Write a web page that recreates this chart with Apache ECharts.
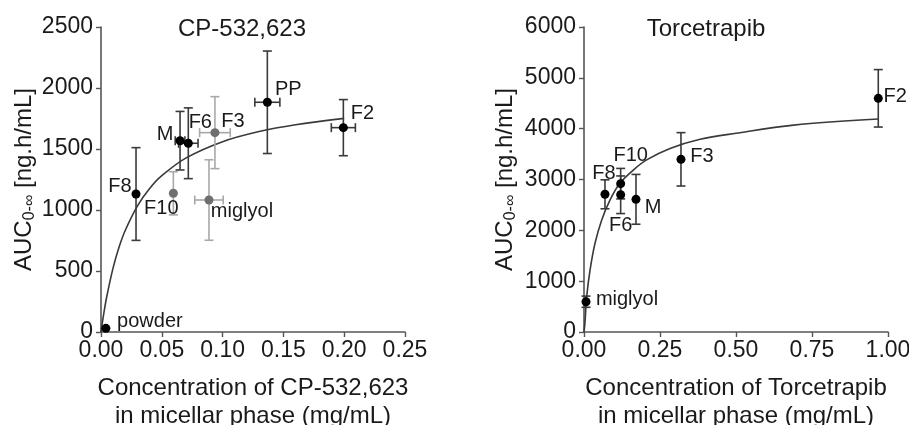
<!DOCTYPE html>
<html>
<head>
<meta charset="utf-8">
<script src="https://cdn.jsdelivr.net/npm/echarts@6/dist/echarts.min.js"></script>
<style>
  html, body { margin: 0; padding: 0; background: #fff; }
  #chart { width: 909px; height: 425px; }
</style>
</head>
<body>
<div id="chart"></div>
<script>
// CP-532,623 panel - black points
const cpNames = ['powder', 'F8', 'M', 'F6', 'PP', 'F2'];
const cpX = [0.004, 0.0288, 0.065, 0.0718, 0.1368, 0.1993];
const cpY = [30, 1131, 1568, 1547, 1883, 1675];
const cpYErr = [0, 380, 240, 290, 420, 230];
const cpXErr = [0, 0, 0.004, 0.008, 0.0103, 0.0099];
// CP-532,623 panel - grey points
const cpGreyNames = ['F10', 'F3', 'miglyol'];
const cpGreyX = [0.0595, 0.0937, 0.0888];
const cpGreyY = [1137, 1634, 1082];
const cpGreyYErr = [177, 295, 330];
const cpGreyXErr = [0, 0.0126, 0.0117];
// CP-532,623 fitted curve
const cpCurveX = [0, 0.0025, 0.005, 0.01, 0.015, 0.02, 0.03, 0.04, 0.05, 0.07, 0.1, 0.13, 0.16, 0.2];
const cpCurveY = [0, 164, 303, 528, 700, 834, 1034, 1176, 1281, 1427, 1560, 1643, 1699, 1751];

// Torcetrapib panel
const tcNames = ['miglyol', 'F8', 'F10', 'F6', 'M', 'F3', 'F2'];
const tcX = [0.0066, 0.069, 0.1206, 0.1206, 0.171, 0.319, 0.968];
const tcY = [596, 2709, 2918, 2700, 2610, 3397, 4597];
const tcYErr = [110, 285, 300, 370, 490, 525, 565];
const tcXErr = [0, 0, 0, 0, 0, 0, 0];
const tcCurveX = [0, 0.003, 0.009, 0.02, 0.036, 0.058, 0.085, 0.118, 0.162, 0.206, 0.283, 0.382, 0.5, 0.69, 0.968];
const tcCurveY = [0, 170, 700, 1220, 1740, 2200, 2590, 2925, 3185, 3385, 3610, 3790, 3910, 4070, 4190];

// label offsets (px from point centre)
const cpOffsets = [[44, -7], [-16, -8], [-15, -6], [12, -21], [21, -13], [19, -14]];
const cpGreyOffsets = [[-12, 15], [18, -11], [33, 11]];
const tcOffsets = [[41, -2], [-1, -21], [10, -28], [0, 31], [17, 8], [21, -3], [17, -2]];

const FONT = '"Liberation Sans", Arial, sans-serif';
const TXT = '#1a1a1a';
const AXIS = '#555';

function errData(xs, ys, ey, ex) {
  return xs.map((x, i) => [x, ys[i], ey[i], ex[i]]);
}

function pointData(names, xs, ys, offs) {
  return names.map((n, i) => ({
    name: n,
    value: [xs[i], ys[i]],
    label: { offset: offs[i] }
  }));
}

function renderErr(color) {
  return function (params, api) {
    const x = api.value(0), y = api.value(1), ey = api.value(2), ex = api.value(3);
    const cap = 4.5;
    const style = { stroke: color, lineWidth: 1.6, fill: null };
    const kids = [];
    if (ey > 0) {
      const t = api.coord([x, y + ey]);
      const b = api.coord([x, y - ey]);
      kids.push({ type: 'line', shape: { x1: t[0], y1: t[1], x2: b[0], y2: b[1] }, style });
      kids.push({ type: 'line', shape: { x1: t[0] - cap, y1: t[1], x2: t[0] + cap, y2: t[1] }, style });
      kids.push({ type: 'line', shape: { x1: b[0] - cap, y1: b[1], x2: b[0] + cap, y2: b[1] }, style });
    }
    if (ex > 0) {
      const l = api.coord([x - ex, y]);
      const r = api.coord([x + ex, y]);
      kids.push({ type: 'line', shape: { x1: l[0], y1: l[1], x2: r[0], y2: r[1] }, style });
      kids.push({ type: 'line', shape: { x1: l[0], y1: l[1] - cap, x2: l[0], y2: l[1] + cap }, style });
      kids.push({ type: 'line', shape: { x1: r[0], y1: r[1] - cap, x2: r[0], y2: r[1] + cap }, style });
    }
    return { type: 'group', children: kids };
  };
}

function xAxisCfg(idx, max, interval, digits, name) {
  return {
    type: 'value', gridIndex: idx, min: 0, max: max, interval: interval,
    name: name, nameLocation: 'middle', nameGap: 42,
    nameTextStyle: { fontFamily: FONT, fontSize: 24, color: TXT, lineHeight: 28, verticalAlign: 'top' },
    axisLine: { show: true, lineStyle: { color: AXIS, width: 1.6 } },
    axisTick: { show: true, length: 5, lineStyle: { color: AXIS, width: 1.4 } },
    axisLabel: { fontFamily: FONT, fontSize: 23, color: TXT, margin: 7,
      formatter: v => v.toFixed(digits) },
    splitLine: { show: false }
  };
}

function yAxisCfg(idx, max, interval, gap) {
  return {
    type: 'value', gridIndex: idx, min: 0, max: max, interval: interval,
    name: '{a|AUC}{s|0-∞}{a| [ng.h/mL]}', nameLocation: 'middle', nameGap: gap,
    nameTextStyle: {
      fontFamily: FONT, color: TXT,
      rich: {
        a: { fontFamily: FONT, fontSize: 24, color: TXT, lineHeight: 28 },
        s: { fontFamily: FONT, fontSize: 16, color: TXT, lineHeight: 28, padding: [11, 0, 0, 0] }
      }
    },
    axisLine: { show: true, lineStyle: { color: AXIS, width: 1.6 } },
    axisTick: { show: true, length: 5, lineStyle: { color: AXIS, width: 1.4 } },
    axisLabel: { fontFamily: FONT, fontSize: 23, color: TXT, margin: 8, formatter: v => String(v) },
    splitLine: { show: false }
  };
}

const labelBase = {
  show: true, position: 'inside', formatter: '{b}',
  fontFamily: FONT, fontSize: 20, color: TXT, textBorderWidth: 0
};

const chart = echarts.init(document.getElementById('chart'), null, { renderer: 'canvas' });
chart.setOption({
  backgroundColor: '#fff',
  animation: false,
  title: [
    { text: 'CP-532,623', left: 242, top: 17, textAlign: 'center', padding: 0,
      textStyle: { fontFamily: FONT, fontSize: 24, fontWeight: 'normal', color: TXT } },
    { text: 'Torcetrapib', left: 706, top: 17, textAlign: 'center', padding: 0,
      textStyle: { fontFamily: FONT, fontSize: 24, fontWeight: 'normal', color: TXT } }
  ],
  grid: [
    { left: 101, right: 504, top: 27, bottom: 93, containLabel: false, outerBoundsMode: 'none' },
    { left: 584, right: 21, top: 27, bottom: 93, containLabel: false, outerBoundsMode: 'none' }
  ],
  xAxis: [
    xAxisCfg(0, 0.25, 0.05, 2, 'Concentration of CP-532,623\nin micellar phase (mg/mL)'),
    xAxisCfg(1, 1, 0.25, 2, 'Concentration of Torcetrapib\nin micellar phase (mg/mL)')
  ],
  yAxis: [
    yAxisCfg(0, 2500, 500, 57),
    yAxisCfg(1, 6000, 1000, 65)
  ],
  series: [
    {
      type: 'line', xAxisIndex: 0, yAxisIndex: 0, smooth: 0.35, showSymbol: false, silent: true,
      data: cpCurveX.map((x, i) => [x, cpCurveY[i]]),
      lineStyle: { color: '#3a3a3a', width: 1.6 }, z: 1
    },
    {
      type: 'line', xAxisIndex: 1, yAxisIndex: 1, smooth: 0.35, showSymbol: false, silent: true,
      data: tcCurveX.map((x, i) => [x, tcCurveY[i]]),
      lineStyle: { color: '#3a3a3a', width: 1.6 }, z: 1
    },
    {
      type: 'custom', xAxisIndex: 0, yAxisIndex: 0, renderItem: renderErr('#a8a8a8'),
      encode: { x: 0, y: 1 }, data: errData(cpGreyX, cpGreyY, cpGreyYErr, cpGreyXErr), z: 2
    },
    {
      type: 'custom', xAxisIndex: 0, yAxisIndex: 0, renderItem: renderErr('#3a3a3a'),
      encode: { x: 0, y: 1 }, data: errData(cpX, cpY, cpYErr, cpXErr), z: 3
    },
    {
      type: 'custom', xAxisIndex: 1, yAxisIndex: 1, renderItem: renderErr('#3a3a3a'),
      encode: { x: 0, y: 1 }, data: errData(tcX, tcY, tcYErr, tcXErr), z: 3
    },
    {
      type: 'scatter', xAxisIndex: 0, yAxisIndex: 0, symbolSize: 9,
      itemStyle: { color: '#6f6f6f', opacity: 1 },
      label: labelBase,
      data: pointData(cpGreyNames, cpGreyX, cpGreyY, cpGreyOffsets), z: 4
    },
    {
      type: 'scatter', xAxisIndex: 0, yAxisIndex: 0, symbolSize: 9,
      itemStyle: { color: '#000', opacity: 1 },
      label: labelBase,
      data: pointData(cpNames, cpX, cpY, cpOffsets), z: 5
    },
    {
      type: 'scatter', xAxisIndex: 1, yAxisIndex: 1, symbolSize: 9,
      itemStyle: { color: '#000', opacity: 1 },
      label: labelBase,
      data: pointData(tcNames, tcX, tcY, tcOffsets), z: 5
    }
  ]
});
</script>
</body>
</html>
